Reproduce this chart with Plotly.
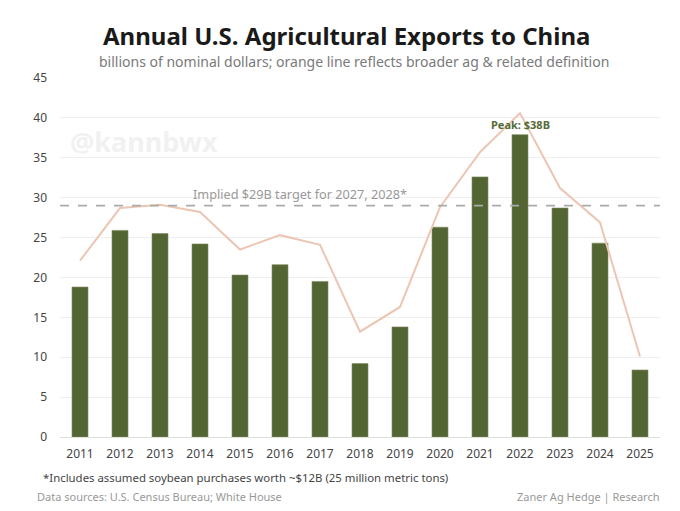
import plotly.graph_objects as go

years = [2011, 2012, 2013, 2014, 2015, 2016, 2017, 2018, 2019, 2020, 2021, 2022, 2023, 2024, 2025]
exports = [18.8, 25.9, 25.5, 24.2, 20.3, 21.6, 19.5, 9.2, 13.8, 26.3, 32.6, 37.9, 28.7, 24.3, 8.4]
broader = [22.1, 28.7, 29.1, 28.2, 23.5, 25.3, 24.1, 13.2, 16.3, 28.8, 35.7, 40.6, 31.2, 26.9, 10.1]
target = 29
y_ticks = [0, 5, 10, 15, 20, 25, 30, 35, 40, 45]

FONT = "Noto Sans"
BAR = "#546534"

# page body has an 8px margin, so figure coordinates are offset by 8px
PL, PR, PT, PB = 60, 660, 78, 437  # plot area in screen pixels


def px(sx):
    return (sx - PL) / (PR - PL)


def py(sy):
    return (PB - sy) / (PB - PT)


fig = go.Figure()
fig.add_trace(go.Bar(x=years, y=exports, marker=dict(color=BAR, line=dict(color="#7d8c5e", width=0.6)),
                     width=0.4, hoverinfo="skip", showlegend=False))
fig.add_trace(go.Scatter(x=years, y=broader, mode="lines", line=dict(color="#ecc6b3", width=2),
                         hoverinfo="skip", showlegend=False))
fig.add_shape(type="line", xref="paper", x0=0, x1=1, yref="y", y0=target, y1=target,
              line=dict(color="#aaaaaa", width=1.6, dash="dash"), layer="above")

fig.add_annotation(x=2016.5, y=target, yshift=12, text="Implied $29B target for 2027, 2028*",
                   showarrow=False, font=dict(family=FONT, size=12.7, color="#999999"))
fig.add_annotation(x=2022, y=exports[11], yshift=10, text="<b>Peak: $38B</b>", showarrow=False,
                   font=dict(family=FONT, size=11, color="#556b35"))
fig.add_annotation(xref="paper", yref="paper", x=px(68), y=py(141), xanchor="left", yanchor="middle",
                   text="<b>@kannbwx</b>", showarrow=False,
                   font=dict(family=FONT, size=27, color="#f1f1f1"))

fig.add_annotation(xref="paper", yref="paper", x=px(346), y=py(35), xanchor="center", yanchor="middle",
                   text="<b>Annual U.S. Agricultural Exports to China</b>", showarrow=False,
                   font=dict(family=FONT, size=24, color="#1a1a1a"))
fig.add_annotation(xref="paper", yref="paper", x=px(354), y=py(61), xanchor="center", yanchor="middle",
                   text="billions of nominal dollars; orange line reflects broader ag & related definition",
                   showarrow=False, font=dict(family=FONT, size=14, color="#7a7a7a"))
fig.add_annotation(xref="paper", yref="paper", x=px(41), y=py(477), xanchor="left", yanchor="middle",
                   text="*Includes assumed soybean purchases worth ~$12B (25 million metric tons)",
                   showarrow=False, font=dict(family=FONT, size=11.4, color="#444444"))
fig.add_annotation(xref="paper", yref="paper", x=px(35), y=py(497), xanchor="left", yanchor="middle",
                   text="Data sources: U.S. Census Bureau; White House",
                   showarrow=False, font=dict(family=FONT, size=11, color="#999999"))
fig.add_annotation(xref="paper", yref="paper", x=px(661), y=py(497), xanchor="right", yanchor="middle",
                   text="Zaner Ag Hedge | Research",
                   showarrow=False, font=dict(family=FONT, size=11, color="#999999"))

fig.update_layout(
    width=680, height=511,
    margin=dict(l=PL - 8, r=680 - (PR - 8), t=PT - 8, b=511 - (PB - 8)),
    paper_bgcolor="white", plot_bgcolor="white",
    font=dict(family=FONT, size=12, color="#444444"),
    xaxis=dict(range=[2010.5, 2025.5], tickmode="array", tickvals=years, ticktext=[str(y) for y in years],
               showgrid=False, showline=True, linecolor="#dddddd", linewidth=1, ticks="",
               tickfont=dict(size=12, color="#444444"), ticklabelstandoff=6, fixedrange=True),
    yaxis=dict(range=[0, 45], tickmode="array", tickvals=y_ticks, showgrid=True, gridcolor="#efefef",
               gridwidth=1, zeroline=False, ticks="", tickfont=dict(size=12, color="#444444"),
               ticklabelstandoff=12, fixedrange=True),
    bargap=0.6,
)

fig.write_html("out.html")
